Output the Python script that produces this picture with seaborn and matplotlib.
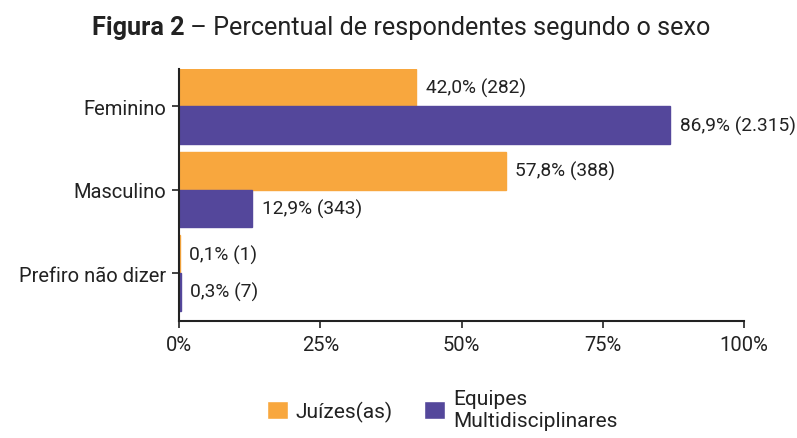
import pandas as pd
import matplotlib.pyplot as plt
import seaborn as sns

categorias = ['Feminino', 'Masculino', 'Prefiro não dizer']
grupos = ['Juízes(as)', 'Equipes\nMultidisciplinares']
pct_juizes = [42.0, 57.8, 0.1]
n_juizes = [282, 388, 1]
pct_equipes = [86.9, 12.9, 0.3]
n_equipes = [2315, 343, 7]
xticks = [0, 25, 50, 75, 100]

CORES = ['#F8A73E', '#54479B']
TXT = '#222222'

sns.set_theme(style='white')
plt.rcParams['font.family'] = ['Roboto', 'DejaVu Sans']


def fmt_label(p, n):
    pct = f'{p:.1f}'.replace('.', ',')
    num = f'{n:,}'.replace(',', '.')
    return f'{pct}% ({num})'


def build_df():
    rows = []
    for c, p, n in zip(categorias, pct_juizes, n_juizes):
        rows.append({'cat': c, 'grupo': grupos[0], 'pct': p, 'n': n})
    for c, p, n in zip(categorias, pct_equipes, n_equipes):
        rows.append({'cat': c, 'grupo': grupos[1], 'pct': p, 'n': n})
    return pd.DataFrame(rows)


def main():
    df = build_df()
    fig = plt.figure(figsize=(7.97, 4.39), dpi=100)
    ax = fig.add_axes([0.2246, 0.2665, 0.7089, 0.574])

    sns.barplot(data=df, y='cat', x='pct', hue='grupo', orient='h',
                palette=CORES, width=0.9, saturation=1, ax=ax, legend=True)

    # same-colour edge so the tiny bars still show, no white gap
    for cont, cor in zip(ax.containers, CORES):
        for b in cont:
            b.set_edgecolor(cor)
            b.set_linewidth(1.0)

    # labels at the end of every bar
    for cont, g in zip(ax.containers, grupos):
        sub = df[df['grupo'] == g]
        labels = [fmt_label(p, n) for p, n in zip(sub['pct'], sub['n'])]
        ax.bar_label(cont, labels=labels, padding=7, fontsize=13.8, color=TXT)

    ax.set_xlim(0, 100)
    ax.set_ylim(2.575, -0.445)
    ax.set_xticks(xticks)
    ax.set_xticklabels([f'{t}%' for t in xticks])
    ax.set_xlabel('')
    ax.set_ylabel('')
    ax.tick_params(axis='both', which='both', length=5, width=1.2, color=TXT,
                   labelsize=14.5, labelcolor=TXT, bottom=True, left=True)
    ax.tick_params(axis='x', pad=5)
    ax.tick_params(axis='y', pad=4)
    for s in ['top', 'right']:
        ax.spines[s].set_visible(False)
    for s in ['left', 'bottom']:
        ax.spines[s].set_color(TXT)
        ax.spines[s].set_linewidth(1.5)

    ax.legend_.remove()
    handles, lbls = ax.get_legend_handles_labels()
    fig.legend(handles, lbls, loc='center', bbox_to_anchor=(0.555, 0.065), ncol=2,
               frameon=False, fontsize=15, handlelength=1.0, handleheight=1.0,
               columnspacing=1.5, handletextpad=0.4, labelcolor=TXT)

    # title: bold part + regular part
    t1 = fig.text(0.115, 0.92, 'Figura 2', fontsize=18.2, fontweight='bold',
                  color=TXT, va='baseline', ha='left')
    ax.annotate(' – Percentual de respondentes segundo o sexo', xy=(1, 0),
                xycoords=t1, va='bottom', ha='left', fontsize=18.2, color=TXT)

    fig.savefig('out.png', dpi=100)


if __name__ == '__main__':
    main()
